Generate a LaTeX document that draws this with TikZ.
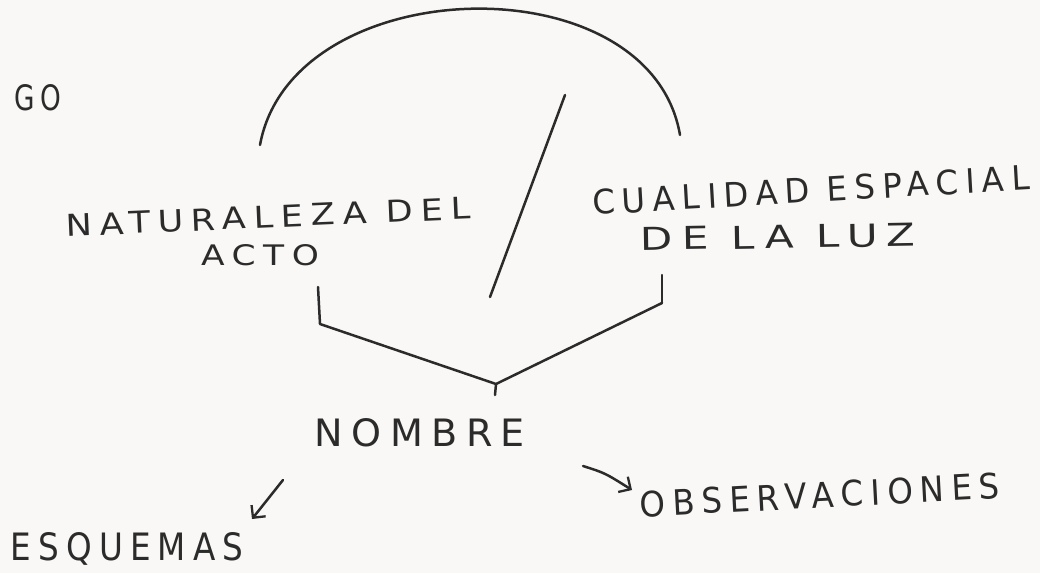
\documentclass[tikz,border=0pt]{standalone}
\usepackage{fontspec}
\usepackage{graphicx}
\usetikzlibrary{arrows.meta}
\newfontfamily\handfont[LetterSpace=22]{DejaVu Sans}
\definecolor{ink}{HTML}{2B2B2B}
\definecolor{paper}{HTML}{FAF8F6}
\newcommand{\hw}[3]{\resizebox{#1pt}{#2pt}{\handfont #3}}
\tikzset{
  lbl/.style={inner sep=0pt, text=ink},
  stroke/.style={draw=ink, line width=2.5pt, line cap=round, line join=round},
  arr/.style={stroke, -{Straight Barb[length=9pt,width=18pt,line width=2.3pt]}}
}
\begin{document}
\begin{tikzpicture}[x=1pt,y=-1pt]
\fill[paper] (0,0) rectangle (1040,573);
\useasboundingbox (0,0) rectangle (1040,573);

% texts
\node[lbl] (go) at (38,98) {\hw{47}{26}{GO}};
\node[lbl, rotate=2.5] (nat) at (268,217) {\hw{405}{22}{NATURALEZA DEL}};
\node[lbl] (acto) at (260,255) {\hw{118}{21}{ACTO}};
\node[lbl, rotate=3.3] (cual) at (811,190) {\hw{438}{25}{CUALIDAD ESPACIAL}};
\node[lbl, rotate=1] (luz) at (778,237) {\hw{275}{23}{DE LA LUZ}};
\node[lbl] (nombre) at (420,433) {\hw{210}{28}{NOMBRE}};
\node[lbl] (esq) at (127,549) {\hw{233}{28}{ESQUEMAS}};
\node[lbl, rotate=3] (obs) at (820,495) {\hw{360}{26}{OBSERVACIONES}};

% arc
\coordinate (arcL) at (260,145);
\coordinate (arcR) at (680,135);
\draw[stroke] (arcL) .. controls (292,-30) and (650,-40) .. (arcR);

% slash
\coordinate (slT) at (565,95);
\coordinate (slB) at (490,297);
\draw[stroke] (slT) -- (slB);

% bracket
\coordinate (bL1) at (318,287);
\coordinate (bL2) at (320,324);
\coordinate (bM) at (496,384);
\coordinate (bM2) at (495,395);
\coordinate (bR1) at (662,303);
\coordinate (bR0) at (662,275);
\draw[stroke] (bL1) -- (bL2) -- (bM) -- (bR1);
\draw[stroke] (bR0) -- (bR1);
\draw[stroke] (bM) -- (bM2);

% arrows
\coordinate (a1s) at (283,480);
\coordinate (a1e) at (252,519);
\draw[arr] (a1s) -- (a1e);
\coordinate (a2s) at (583,466);
\coordinate (a2e) at (632,490);
\draw[arr] (a2s) .. controls (605,473) .. (a2e);
\end{tikzpicture}
\end{document}
